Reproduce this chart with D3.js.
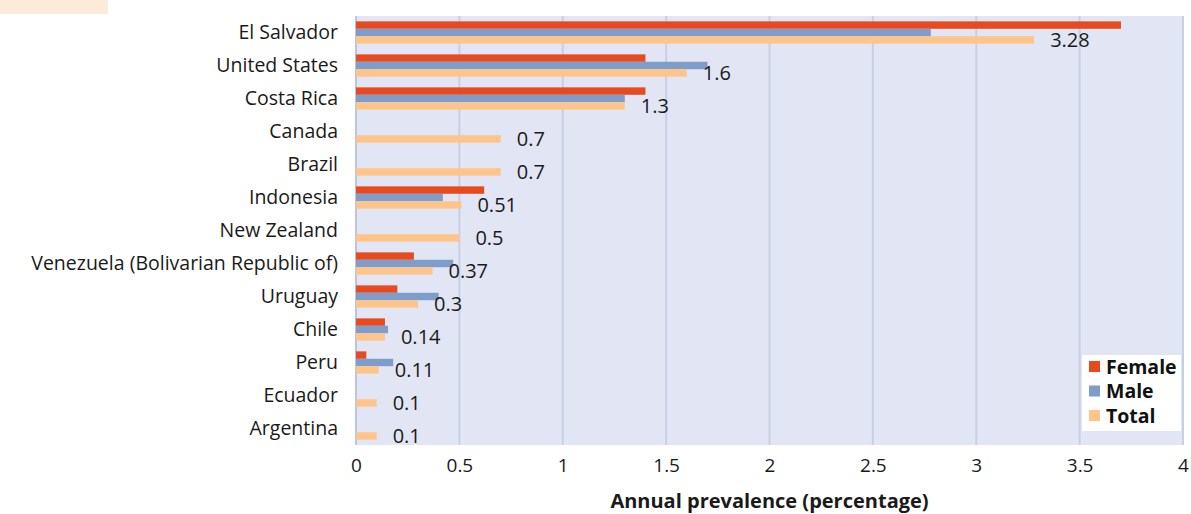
<!DOCTYPE html>
<html>
<head>
<meta charset="utf-8">
<script src="https://cdn.jsdelivr.net/npm/d3@7/dist/d3.min.js"></script>
<style>
  html, body { margin: 0; padding: 0; background: #ffffff; }
  svg { display: block; font-family: "Open Sans", "Noto Sans", sans-serif; }
</style>
</head>
<body>
<svg id="chart" width="1191" height="514"></svg>
<script>
// Annual prevalence by country and sex (percentage)
const countries = ["El Salvador", "United States", "Costa Rica", "Canada", "Brazil", "Indonesia",
  "New Zealand", "Venezuela (Bolivarian Republic of)", "Uruguay", "Chile", "Peru", "Ecuador", "Argentina"];
const female = [3.70, 1.40, 1.40, null, null, 0.62, null, 0.28, 0.20, 0.14, 0.05, null, null];
const male   = [2.78, 1.70, 1.30, null, null, 0.42, null, 0.47, 0.40, 0.155, 0.18, null, null];
const total  = [3.28, 1.6, 1.3, 0.7, 0.7, 0.51, 0.5, 0.37, 0.3, 0.14, 0.11, 0.1, 0.1];
const seriesNames = ["Female", "Male", "Total"];
const xTicks = [0, 0.5, 1, 1.5, 2, 2.5, 3, 3.5, 4];

const colors = { Female: "#e84a1f", Male: "#7f9dcb", Total: "#ffc48a" };
const seriesValues = { Female: female, Male: male, Total: total };

const svg = d3.select("#chart");
const plot = { left: 356, right: 1183, top: 16, bottom: 445 };

const x = d3.scaleLinear().domain([0, 4]).range([plot.left, plot.right]);
const y = d3.scaleBand().domain(countries).range([plot.top, plot.bottom]).paddingInner(0.325).paddingOuter(0.1625);
const ySub = d3.scaleBand().domain(seriesNames).range([0, y.bandwidth()]);

// header strip
svg.append("rect").attr("x", 0).attr("y", 0).attr("width", 108).attr("height", 14).attr("fill", "#fdebd9");

// plot background
svg.append("rect")
  .attr("x", plot.left).attr("y", plot.top)
  .attr("width", plot.right - plot.left).attr("height", plot.bottom - plot.top)
  .attr("fill", "#e2e5f4");

// vertical gridlines
svg.append("g").selectAll("line").data(xTicks).join("line")
  .attr("x1", d => x(d)).attr("x2", d => x(d))
  .attr("y1", plot.top).attr("y2", plot.bottom)
  .attr("stroke", d => d === 0 ? "#bcc5df" : "#c8cfe5")
  .attr("stroke-width", 2);

// bars
const groups = svg.append("g").selectAll("g").data(countries).join("g")
  .attr("transform", d => `translate(0,${y(d)})`);

seriesNames.forEach(s => {
  groups.filter((d, i) => seriesValues[s][i] != null)
    .append("rect")
    .attr("x", x(0))
    .attr("y", ySub(s))
    .attr("width", d => x(seriesValues[s][countries.indexOf(d)]) - x(0))
    .attr("height", ySub.bandwidth())
    .attr("fill", colors[s]);
});

// value labels for the total series
groups.append("text")
  .attr("x", (d, i) => x(total[i]) + 16)
  .attr("y", ySub("Total") + ySub.bandwidth() / 2)
  .attr("dy", "0.35em")
  .attr("font-size", 20)
  .attr("fill", "#1a1a1a")
  .text((d, i) => total[i]);

// category axis labels
const yAxis = d3.axisLeft(y).tickSize(0).tickPadding(18);
const yg = svg.append("g").attr("transform", `translate(${plot.left},0)`).call(yAxis);
yg.select(".domain").remove();
yg.selectAll("text").attr("font-size", 19.5).attr("fill", "#1a1a1a")
  .attr("font-family", "Open Sans, Noto Sans, sans-serif");

// value axis
const xAxis = d3.axisBottom(x).tickValues(xTicks).tickSize(0).tickPadding(14).tickFormat(d3.format("~g"));
const xg = svg.append("g").attr("transform", `translate(0,${plot.bottom})`).call(xAxis);
xg.select(".domain").remove();
xg.selectAll("text").attr("font-size", 19).attr("fill", "#1a1a1a")
  .attr("font-family", "Open Sans, Noto Sans, sans-serif");

// axis title
svg.append("text")
  .attr("x", (plot.left + plot.right) / 2).attr("y", 508)
  .attr("text-anchor", "middle")
  .attr("font-size", 20).attr("font-weight", "bold").attr("fill", "#1a1a1a")
  .text("Annual prevalence (percentage)");

// legend
const legend = svg.append("g").attr("transform", "translate(1082,355)");
legend.append("rect").attr("width", 99).attr("height", 76).attr("fill", "#ffffff");
seriesNames.forEach((s, i) => {
  const row = legend.append("g").attr("transform", `translate(7,${12 + i * 24.5})`);
  row.append("rect").attr("x", 0).attr("y", -6).attr("width", 11).attr("height", 11).attr("fill", colors[s]);
  row.append("text").attr("x", 17).attr("y", 0).attr("dy", "0.35em")
    .attr("font-size", 19.5).attr("font-weight", "bold").attr("fill", "#111111")
    .text(s);
});
</script>
</body>
</html>
